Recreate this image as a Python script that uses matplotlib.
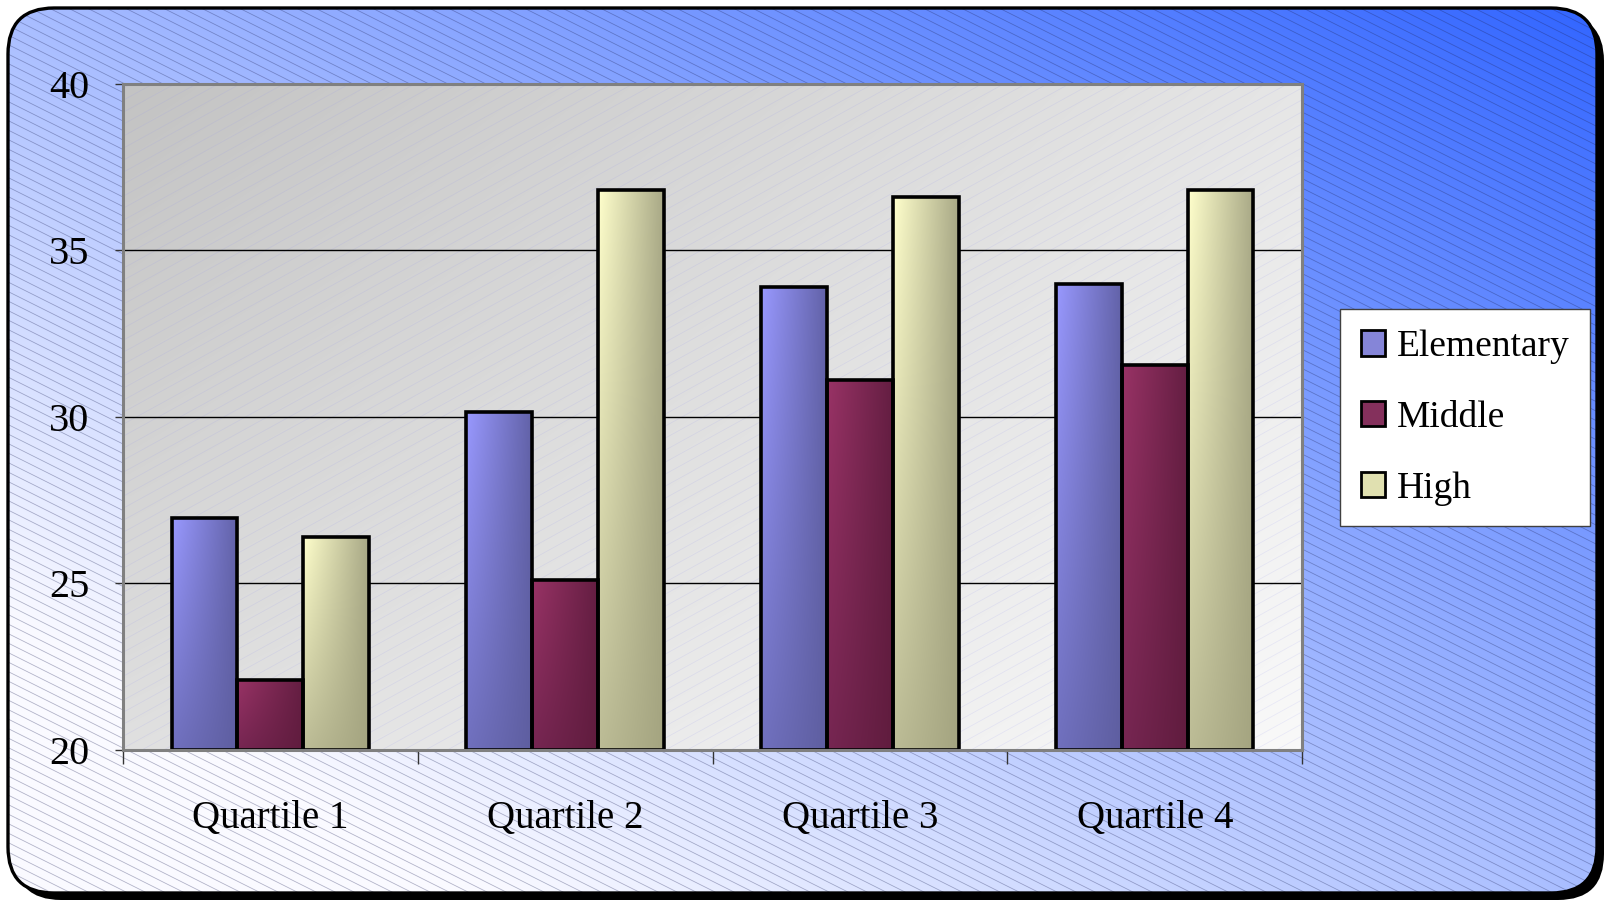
import numpy as np
import matplotlib
matplotlib.use('Agg')
import matplotlib.pyplot as plt
from matplotlib.patches import FancyBboxPatch, Patch
from matplotlib.collections import LineCollection

plt.rcParams['font.family'] = ['Liberation Serif', 'DejaVu Serif']

# data
quartiles = ['Quartile 1', 'Quartile 2', 'Quartile 3', 'Quartile 4']
series_names = ['Elementary', 'Middle', 'High']
elementary = [26.95, 30.15, 33.9, 34.0]
middle = [22.1, 25.1, 31.1, 31.55]
high = [26.4, 36.8, 36.6, 36.8]
yticks = [20, 25, 30, 35, 40]

# bar shading: top-left, top-right, bottom-left, bottom-right
bar_shades = [
    [(153, 153, 255), (98, 98, 168), (112, 112, 190), (94, 94, 160)],
    [(153, 51, 102), (100, 30, 66), (118, 38, 82), (96, 28, 62)],
    [(255, 255, 204), (168, 168, 134), (188, 188, 150), (164, 164, 128)],
]
legend_colors = ['#8585d8', '#84305c', '#e0e0b0']


def corner_gradient(tl, tr, bl, br, n=80):
    tl, tr, bl, br = [np.array(c, float) / 255 for c in (tl, tr, bl, br)]
    xx, yy = np.meshgrid(np.linspace(0, 1, n), np.linspace(0, 1, n))
    xx, yy = xx[..., None], yy[..., None]
    top = (1 - xx) * tl + xx * tr
    bot = (1 - xx) * bl + xx * br
    return np.clip((1 - yy) * top + yy * bot, 0, 1)


def diagonal_gradient(c0, c1, n=120):
    # c0 at bottom-left, c1 at top-right; light region kept wide
    c0 = np.array(c0, float) / 255
    c1 = np.array(c1, float) / 255
    xx, yy = np.meshgrid(np.linspace(0, 1, n), np.linspace(1, 0, n))
    s = (xx + yy) / 2
    t = np.clip((s - 0.15) / 0.85, 0, 1)[..., None]
    return (1 - t) * c0 + t * c1


W, H = 1604, 900
fig = plt.figure(figsize=(W / 100, H / 100), dpi=100)

# ---- background frame (pixel coordinates, y down)
bg = fig.add_axes([0, 0, 1, 1])
bg.set_xlim(0, W)
bg.set_ylim(H, 0)
bg.axis('off')

shadow = FancyBboxPatch((15, 15), W - 15, H - 15,
                        boxstyle='round,pad=0,rounding_size=46',
                        facecolor='black', edgecolor='none')
bg.add_patch(shadow)
frame = FancyBboxPatch((8, 8), 1589, 885,
                       boxstyle='round,pad=0,rounding_size=46',
                       facecolor='none', edgecolor='black', lw=2.4, zorder=5)
bg.add_patch(frame)

im = bg.imshow(diagonal_gradient((250, 250, 255), (51, 102, 255)),
               extent=(8, 1597, 893, 8), aspect='auto',
               interpolation='bilinear', zorder=1)
im.set_clip_path(frame)

segs = [[(0, c), (W, c + 0.5 * W)] for c in np.arange(-900, 900, 9.5)]
hatch = LineCollection(segs, colors=[(0.12, 0.14, 0.35)], alpha=0.33,
                       linewidths=0.6, zorder=2)
bg.add_collection(hatch, autolim=False)
hatch.set_clip_path(frame)

# ---- plot area
ax = fig.add_axes([122.8 / W, 1 - 749.8 / H, (1302.2 - 122.8) / W,
                   (749.8 - 83.9) / H])
ax.imshow(corner_gradient((195, 195, 195), (230, 230, 230),
                          (224, 224, 224), (249, 249, 249)),
          extent=(0, 1, 0, 1), transform=ax.transAxes, aspect='auto',
          interpolation='bilinear', zorder=0)

# faint diagonal lines in plot area, drawn in pixel space
psegs = [[(0, c), (W, c - 0.55 * W)] for c in np.arange(0, 1800, 12)]
plines = LineCollection(psegs, colors=[(0.55, 0.55, 0.95)], alpha=0.16,
                        linewidths=0.5, zorder=0.3, transform=bg.transData)
ax.add_collection(plines, autolim=False)

x = np.arange(len(quartiles)) + 0.5
width = 0.223
for i, (name, vals) in enumerate(zip(series_names, [elementary, middle, high])):
    bars = ax.bar(x + (i - 1) * width, np.array(vals) - yticks[0],
                  bottom=yticks[0], width=width, facecolor='none',
                  edgecolor='black', linewidth=2.6, zorder=3)
    grad = corner_gradient(*bar_shades[i])
    for p in bars.patches:
        ax.imshow(grad, extent=(p.get_x(), p.get_x() + p.get_width(),
                                p.get_y(), p.get_y() + p.get_height()),
                  aspect='auto', interpolation='bilinear', zorder=2)

ax.set_xlim(0, len(quartiles))
ax.set_ylim(yticks[0], yticks[-1])
ax.set_yticks(yticks)
ax.yaxis.grid(True, color='black', linewidth=1.0, zorder=0.5)
ax.set_axisbelow(True)
for s in ax.spines.values():
    s.set_color('#808080')
    s.set_linewidth(2.2)
    s.set_zorder(4)

ax.set_xticks(np.arange(len(quartiles) + 1))
ax.set_xticklabels([])
ax.set_xticks(x, minor=True)
ax.set_xticklabels(quartiles, minor=True)
ax.tick_params(axis='x', which='major', direction='out', length=10,
               width=1, color='#333333')
ax.tick_params(axis='x', which='minor', length=0, pad=36, labelsize=28)
ax.tick_params(axis='y', direction='out', length=6, width=1,
               color='#333333', pad=18, labelsize=29)

handles = [Patch(facecolor=c, edgecolor='black', linewidth=2)
           for c in legend_colors]
leg = fig.legend(handles, series_names, loc='upper left',
                 bbox_to_anchor=(1340 / W, 1 - 309 / H), borderaxespad=0,
                 fontsize=27, frameon=True, fancybox=False,
                 handlelength=0.66, handleheight=0.66, handletextpad=0.3,
                 labelspacing=0.97, borderpad=0.55)
leg.get_frame().set_edgecolor('#404040')
leg.get_frame().set_linewidth(1.0)
leg.get_frame().set_facecolor('white')
leg.get_frame().set_alpha(1)
leg.set_zorder(10)

fig.savefig('out.png', dpi=100)
